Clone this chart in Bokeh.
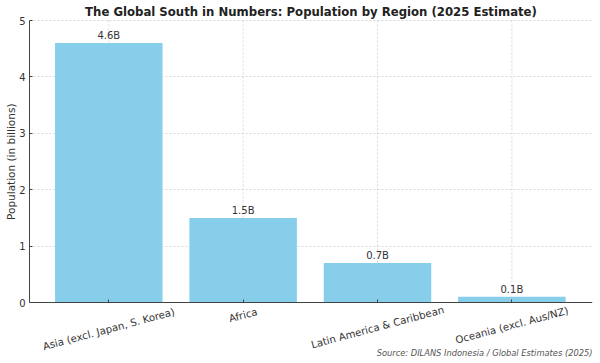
import math
from bokeh.plotting import figure
from bokeh.models import Range1d, FixedTicker, Label, LinearAxis, Title
from bokeh.embed import file_html
from bokeh.resources import INLINE
from bokeh.core.properties import value

categories = ["Asia (excl. Japan, S. Korea)", "Africa", "Latin America & Caribbean", "Oceania (excl. Aus/NZ)"]
population = [4.6, 1.5, 0.7, 0.1]
value_labels = ["4.6B", "1.5B", "0.7B", "0.1B"]
y_ticks = [0, 1, 2, 3, 4, 5]

title_text = "The Global South in Numbers: Population by Region (2025 Estimate)"
y_label = "Population (in billions)"
source_text = "Source: DILANS Indonesia / Global Estimates (2025)"

FONT = "DejaVu Sans"
W, H = 600, 363
LEFT, RIGHT = 29, 8              # frame borders (px)
AX_TOP, AX_BOTTOM = 20, 302      # pixel rows of y=5 and y=0
px_per_unit = (AX_BOTTOM - AX_TOP) / (y_ticks[-1] - y_ticks[0])
y_start = y_ticks[0] - (H - AX_BOTTOM) / px_per_unit
y_end = y_ticks[-1] + AX_TOP / px_per_unit

p = figure(width=W, height=H, output_backend="svg", toolbar_location=None,
           x_range=Range1d(-0.59, 3.6), y_range=Range1d(y_start, y_end),
           x_axis_location=None,
           min_border_left=LEFT, min_border_right=RIGHT, min_border_top=0, min_border_bottom=0)
p.outline_line_color = None
p.background_fill_color = "white"
p.border_fill_color = "white"

xs = list(range(len(categories)))

# vertical dotted grid only over the plotting area
p.segment(x0=xs, y0=y_ticks[0], x1=xs, y1=y_ticks[-1], line_color="#cfcfcf",
          line_dash="2 2", line_width=0.8)
p.xgrid.visible = False
p.ygrid.ticker = FixedTicker(ticks=y_ticks)
p.ygrid.grid_line_color = "#cfcfcf"
p.ygrid.grid_line_dash = "2 2"
p.ygrid.grid_line_width = 0.8

p.vbar(x=xs, top=population, width=0.8, color="#87CEEB", line_color=None)
p.text(x=xs, y=population, text=value_labels, text_align="center", text_baseline="bottom",
       text_font=value(FONT), text_font_size="10px", text_color="#333333", y_offset=-2)

# x axis at y=0
xaxis = LinearAxis(fixed_location=0, ticker=FixedTicker(ticks=xs))
xaxis.major_label_overrides = {i: "" for i in xs}
xaxis.major_label_standoff = 0
p.add_layout(xaxis, "below")

p.yaxis.ticker = FixedTicker(ticks=y_ticks)
p.yaxis.bounds = (y_ticks[0], y_ticks[-1])
for ax in (xaxis, p.yaxis[0]):
    ax.axis_line_color = "#444444"
    ax.axis_line_width = 1
    ax.major_tick_in = 3
    ax.major_tick_out = 0
    ax.major_tick_line_color = "#444444"
    ax.minor_tick_line_color = None
p.yaxis.major_label_text_font = FONT
p.yaxis.major_label_text_font_size = "10px"
p.yaxis.major_label_text_color = "#333333"
p.yaxis.major_label_standoff = 4

# y-axis title, its top end at the pixel row 103
p.add_layout(Title(text=y_label, align="right", offset=103, standoff=0,
                   text_font=FONT, text_font_style="normal", text_font_size="10.5px",
                   text_color="#333333"), "left")

# rotated category labels, top of rotated box just under the axis
ang = math.radians(15)
fs = 10.2
for i, c in enumerate(categories):
    w_est = len(c) * 0.48 * fs
    half_h = (w_est * math.sin(ang) + fs * math.cos(ang)) / 2
    page_y = AX_BOTTOM + 4 + half_h
    p.add_layout(Label(x=i, y=H - page_y, x_units="data", y_units="screen", text=c,
                       angle=15, angle_units="deg", text_align="center", text_baseline="middle",
                       text_font=FONT, text_font_size=f"{fs}px", text_color="#333333"))

frame_w = W - LEFT - RIGHT
p.add_layout(Label(x=frame_w / 2, y=H - 11, x_units="screen", y_units="screen", text=title_text,
                   text_align="center", text_baseline="middle", text_font=FONT,
                   text_font_style="bold", text_font_size="11.7px", text_color="#222222"))
p.add_layout(Label(x=frame_w, y=H - 352, x_units="screen", y_units="screen", text=source_text,
                   text_align="right", text_baseline="middle", text_font=FONT,
                   text_font_style="italic", text_font_size="8.3px", text_color="#555555"))

html = file_html(p, INLINE)
open("out.html", "w").write(html)
